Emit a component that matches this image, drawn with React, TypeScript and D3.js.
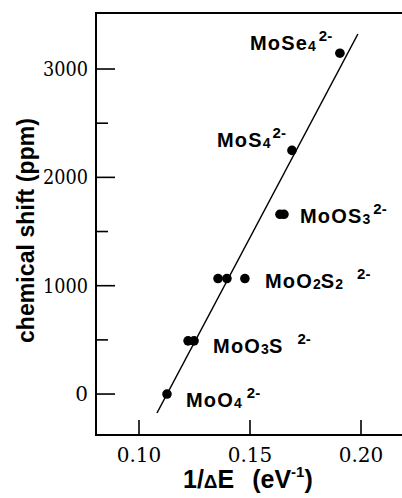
import { scaleLinear, line } from 'd3';

// 95Mo chemical shift vs. 1/ΔE for thiomolybdate-type anions
const compounds = ['MoO4', 'MoO3S', 'MoO2S2', 'MoOS3', 'MoS4', 'MoSe4'];
const invDeltaE = [
  [0.1126],
  [0.1221, 0.1248],
  [0.1356, 0.1396, 0.1477],
  [0.1635, 0.1653],
  [0.1689],
  [0.1905],
];
const shiftPpm = [0, 491, 1066, 1659, 2249, 3146];
// formula pieces, alternating normal / subscript
const formulaParts = [
  ['MoO', '4'],
  ['MoO', '3', 'S'],
  ['MoO', '2', 'S', '2'],
  ['MoOS', '3'],
  ['MoS', '4'],
  ['MoSe', '4'],
];
const charge = '2-';
const fitLineX = [0.1081, 0.1986];
const fitLineY = [-175, 3323];
const yMajorTicks = [0, 1000, 2000, 3000];
const yMinorTicks = [500, 1500, 2500];
const xTicks = [0.1, 0.15, 0.2];
const xTickLabels = ['0.10', '0.15', '0.20'];

// label offsets from the last point of each group (px) and gap before the charge
const labelLayout = [
  { dx: 19, dy: 13, gap: 5 },
  { dx: 19, dy: 12, gap: 14 },
  { dx: 20, dy: 9, gap: 14 },
  { dx: 16, dy: 9, gap: 3 },
  { dx: -75, dy: -3, gap: 2 },
  { dx: -90, dy: -3, gap: 3 },
];

const W = 402;
const H = 498;
const plot = { left: 96, top: 13, bottom: 435, right: 404 };

const sans = "'Liberation Sans', Arial, sans-serif";
const serif = "'DejaVu Serif', 'Liberation Serif', 'Times New Roman', serif";

export default function App() {
  const x = scaleLinear().domain([0.08063, 0.21847]).range([plot.left, 402]);
  const y = scaleLinear().domain([-378, 3517]).range([plot.bottom, plot.top]);

  const fit = line<number>()
    .x((_, i) => x(fitLineX[i]))
    .y(d => y(d));

  return (
    <svg width={W} height={H} style={{ position: 'absolute', left: 0, top: 0, background: '#fff' }}>
      {/* frame (right side is cut off) */}
      <path
        d={`M${plot.right},${plot.top}H${plot.left}V${plot.bottom}H${plot.right}`}
        fill="none" stroke="#000" strokeWidth={2}
      />

      {/* y ticks */}
      {yMajorTicks.map(t => (
        <g key={`ym${t}`}>
          <line x1={plot.left} x2={plot.left + 19} y1={y(t)} y2={y(t)} stroke="#000" strokeWidth={1.6} />
          <text x={88} y={y(t)} dy="0.34em" textAnchor="end" style={{ fontFamily: serif, fontSize: 20 }} textLength={t === 0 ? undefined : 45} lengthAdjust="spacingAndGlyphs">{t}</text>
        </g>
      ))}
      {yMinorTicks.map(t => (
        <line key={`yn${t}`} x1={plot.left} x2={plot.left + 12} y1={y(t)} y2={y(t)} stroke="#000" strokeWidth={1.6} />
      ))}

      {/* x ticks */}
      {xTicks.map((t, i) => (
        <g key={`x${t}`}>
          <line x1={x(t)} x2={x(t)} y1={plot.bottom} y2={plot.bottom - 15} stroke="#000" strokeWidth={1.6} />
          <text x={x(t)} y={462} textAnchor="middle" style={{ fontFamily: serif, fontSize: 20 }}>{xTickLabels[i]}</text>
        </g>
      ))}

      {/* fitted line */}
      <path d={fit(fitLineY) ?? ''} fill="none" stroke="#000" strokeWidth={1.5} />

      {/* points */}
      {compounds.map((c, gi) =>
        invDeltaE[gi].map((v, j) => (
          <circle key={`${c}-${j}`} cx={x(v)} cy={y(shiftPpm[gi])} r={4.8} fill="#000" />
        ))
      )}

      {/* compound labels */}
      {compounds.map((c, gi) => {
        const xs = invDeltaE[gi];
        const lx = x(xs[xs.length - 1]) + labelLayout[gi].dx;
        const ly = y(shiftPpm[gi]) + labelLayout[gi].dy;
        return (
          <text key={`lab-${c}`} x={lx} y={ly} style={{ fontFamily: sans, fontWeight: 'bold', fontSize: 20 }} fill="#000">
            {formulaParts[gi].map((p, k) =>
              k % 2 === 0 ? (
                <tspan key={k} letterSpacing={1.2} dy={k === 0 ? 0 : -1}>{p}</tspan>
              ) : (
                <tspan key={k} style={{ fontSize: 14 }} dy={1}>{p}</tspan>
              )
            )}
            <tspan style={{ fontSize: 15 }} dx={labelLayout[gi].gap} dy={formulaParts[gi].length % 2 === 0 ? -10 : -9}>{charge}</tspan>
          </text>
        );
      })}

      {/* axis titles */}
      <text x={183} y={488} style={{ fontFamily: sans, fontWeight: 'bold', fontSize: 25 }}>
        <tspan>1/</tspan>
        <tspan style={{ fontSize: 19 }}>Δ</tspan>
        <tspan>E</tspan>
        <tspan dx={18}>(eV</tspan>
        <tspan style={{ fontSize: 15 }} dy={-11}>-1</tspan>
        <tspan dy={11}>)</tspan>
      </text>
      <text
        transform={`translate(34,${(118 + 343) / 2}) rotate(-90)`}
        textAnchor="middle" style={{ fontFamily: sans, fontWeight: 'bold', fontSize: 23 }}
        textLength={225} lengthAdjust="spacing"
      >
        chemical shift  (ppm)
      </text>
    </svg>
  );
}
